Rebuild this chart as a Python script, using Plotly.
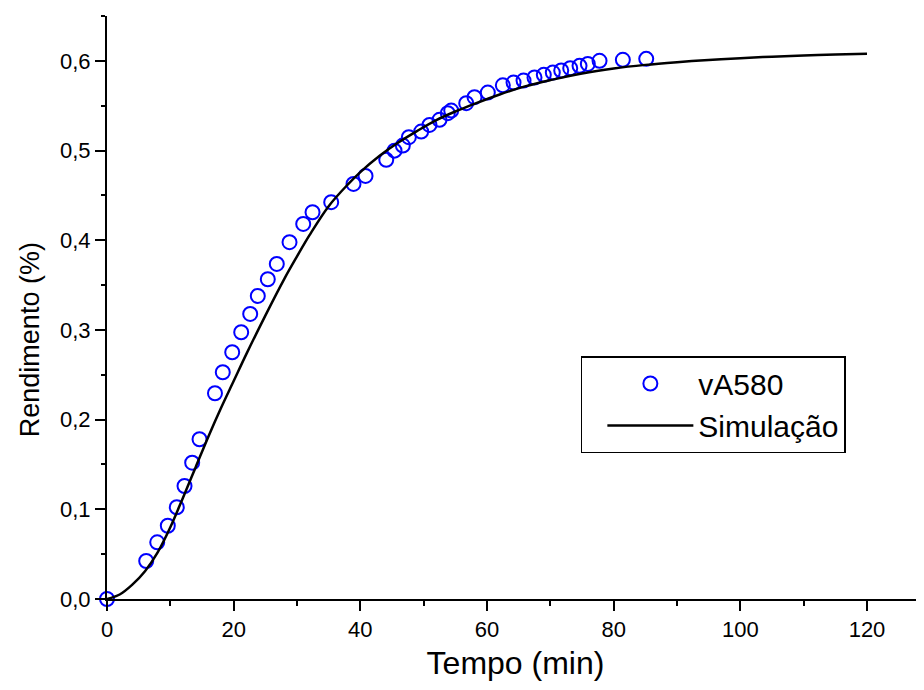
import plotly.graph_objects as go

# Experimental data (vA580)
tempo_exp = [0, 6.19, 7.93, 9.60, 11.02, 12.24, 13.45, 14.61, 17.05, 18.28, 19.77, 21.19,
             22.61, 23.81, 25.39, 26.81, 28.82, 30.98, 32.45, 35.40, 38.92, 40.82, 44.09,
             45.40, 46.71, 47.66, 49.61, 50.92, 52.50, 53.81, 54.35, 56.72, 58.03, 60.13,
             62.50, 64.19, 65.77, 67.50, 68.97, 70.39, 71.72, 73.14, 74.61, 75.92, 77.77,
             81.45, 85.14]
rend_exp = [0.0, 0.0424, 0.0632, 0.0817, 0.1023, 0.1260, 0.1520, 0.1781, 0.2294, 0.2528,
            0.2751, 0.2974, 0.3178, 0.3379, 0.3565, 0.3736, 0.3978, 0.4182, 0.4312, 0.4424,
            0.4628, 0.4717, 0.4896, 0.4999, 0.5055, 0.5149, 0.5211, 0.5286, 0.5342, 0.5417,
            0.5446, 0.5528, 0.5595, 0.5646, 0.5727, 0.5758, 0.5780, 0.5814, 0.5844, 0.5869,
            0.5892, 0.5918, 0.5944, 0.5966, 0.6000, 0.6011, 0.6022]

# Simulation curve
tempo_sim = [0, 2, 4, 6, 8, 10, 12, 14, 16, 18, 20, 22, 25, 28, 30, 32, 35, 38, 40, 43,
             46, 49, 52, 55, 58, 62, 66, 70, 75, 80, 85, 90, 95, 100, 105, 110, 115, 120]
rend_sim = [0.0, 0.005, 0.016, 0.031, 0.052, 0.080, 0.113, 0.147, 0.181, 0.213, 0.243,
            0.273, 0.316, 0.357, 0.382, 0.406, 0.438, 0.462, 0.476, 0.494, 0.509, 0.522,
            0.534, 0.5435, 0.552, 0.5625, 0.5715, 0.5785, 0.586, 0.5915, 0.5955, 0.5985,
            0.601, 0.603, 0.6047, 0.606, 0.607, 0.6078]

FONT = "Liberation Sans, Arial, sans-serif"

fig = go.Figure()
fig.add_trace(go.Scatter(
    x=tempo_exp, y=rend_exp, mode="markers", name="vA580",
    marker=dict(symbol="circle-open", size=14, color="#0000ff", line=dict(width=2, color="#0000ff")),
    cliponaxis=False,
))
fig.add_trace(go.Scatter(
    x=tempo_sim, y=rend_sim, mode="lines", name="Simulação",
    line=dict(color="black", width=2.5, shape="spline", smoothing=1.0),
    cliponaxis=False,
))

fig.update_layout(
    width=916, height=682,
    margin=dict(l=99, r=0, t=8, b=91, autoexpand=False),
    paper_bgcolor="white", plot_bgcolor="white",
    font=dict(family=FONT, color="black", size=22),
    separators=",.",
    showlegend=True,
    legend=dict(
        x=0.58, y=0.4168, xanchor="left", yanchor="top",
        bordercolor="black", borderwidth=1.5, bgcolor="white",
        font=dict(size=30, family=FONT),
        itemwidth=86, indentation=20,
        tracegroupgap=0,
    ),
    xaxis=dict(
        range=[0, 129], showgrid=False, zeroline=False, automargin=False,
        showline=True, linecolor="black", linewidth=2,
        ticks="outside", ticklen=10, tickwidth=2, tickcolor="black",
        tick0=0, dtick=20,
        minor=dict(ticks="outside", ticklen=5, tickwidth=2, tickcolor="black", dtick=10),
        tickfont=dict(size=22),
        title=dict(text="Tempo (min)", font=dict(size=32), standoff=10),
    ),
    yaxis=dict(
        range=[0, 0.65], showgrid=False, zeroline=False, automargin=False,
        showline=True, linecolor="black", linewidth=2,
        ticks="outside", ticklen=10, tickwidth=2, tickcolor="black",
        tick0=0, dtick=0.1, tickformat=".1f",
        minor=dict(ticks="outside", ticklen=4, tickwidth=2, tickcolor="black", dtick=0.05),
        tickfont=dict(size=22),
    ),
    annotations=[dict(
        text="Rendimento (%)", textangle=-90, showarrow=False,
        xref="paper", yref="paper", x=-0.0942, y=0.444,
        xanchor="center", yanchor="middle",
        font=dict(size=27, family=FONT),
    )],
)

fig.write_html("out.html")
